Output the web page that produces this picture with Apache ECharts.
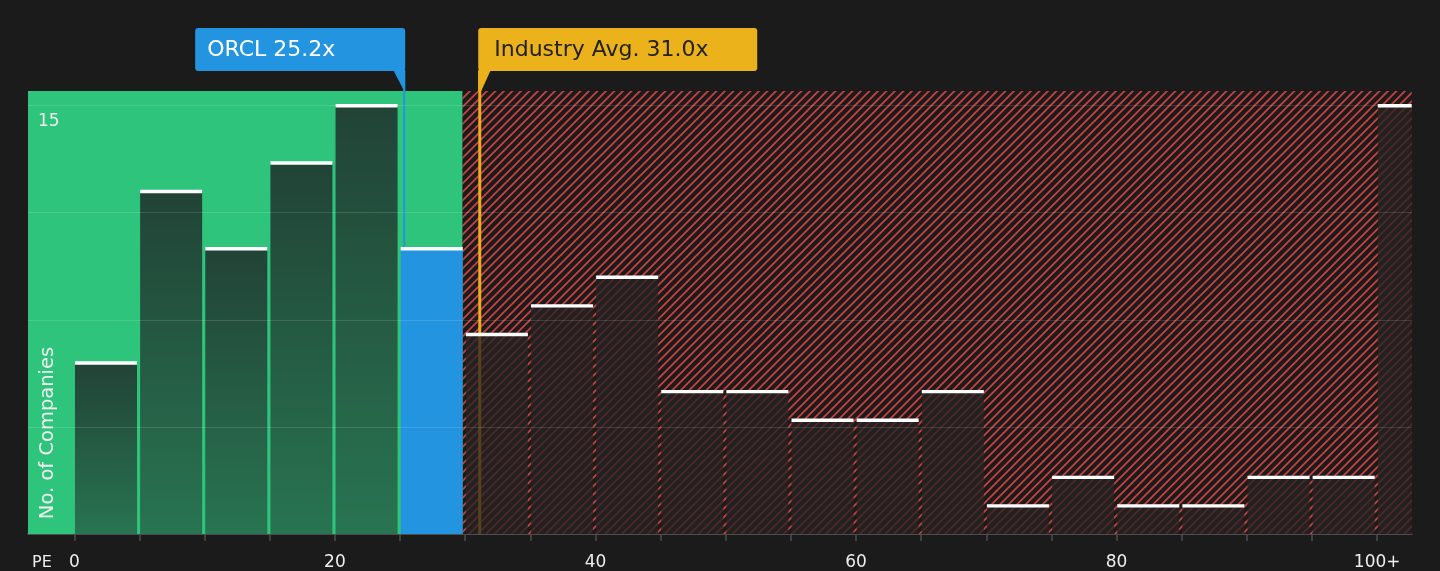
<!DOCTYPE html>
<html>
<head>
<meta charset="utf-8">
<script src="https://cdn.jsdelivr.net/npm/echarts@6/dist/echarts.min.js"></script>
<style>
html,body{margin:0;padding:0;background:#1b1b1b;}
#chart{width:1440px;height:571px;}
</style>
</head>
<body>
<div id="chart"></div>
<script>
// ---- data ----
const binStarts = [0,5,10,15,20,25,30,35,40,45,50,55,60,65,70,75,80,85,90,95,100];
const companyCounts = [6,12,10,13,15,10,7,8,9,5,5,4,4,5,1,2,1,1,2,2,15];
const xTickValues = [0,5,10,15,20,25,30,35,40,45,50,55,60,65,70,75,80,85,90,95,100];
const xLabelValues = [0,20,40,60,80,100];
const xLabelTexts = ['0','20','40','60','80','100+'];
const yGridValues = [3.75,7.5,11.25,15];
const yLabelValues = [15];
const companyName = 'ORCL';
const companyPE = 25.2;
const industryName = 'Industry Avg.';
const industryPE = 31.0;
const goodValueLimit = 29.8;

// ---- layout / style constants ----
const X_MIN = -3.56, X_MAX = 102.65, Y_MAX = 15.5;
const FONT = '"DejaVu Sans", sans-serif';
const MARK_DX = 1.5;

function makeHatch(){
  const s = 17;
  const c = document.createElement('canvas');
  c.width = s; c.height = s;
  const g = c.getContext('2d');
  g.fillStyle = '#1d1a1a';
  g.fillRect(0,0,s,s);
  g.strokeStyle = '#c24343';
  g.lineWidth = 1.9;
  g.beginPath();
  [0, 8.5, 17, 25.5, 34].forEach(k => {
    g.moveTo(k + 2, -2);
    g.lineTo(-2, k + 2);
  });
  g.stroke();
  return c;
}
const hatchPattern = {image: makeHatch(), repeat: 'repeat'};

const bins = binStarts.map((s, i) => {
  const e = i < binStarts.length - 1 ? binStarts[i+1] : X_MAX;
  return [s, e, companyCounts[i]];
});

const chart = echarts.init(document.getElementById('chart'), null, {renderer: 'canvas'});

const option = {
  backgroundColor: '#1b1b1b',
  animation: false,
  textStyle: {fontFamily: FONT},
  grid: {left: 28, right: 28.3, top: 91, bottom: 36, containLabel: false},
  xAxis: {
    type: 'value', min: X_MIN, max: X_MAX,
    splitLine: {show: false},
    axisLine: {show: true, lineStyle: {color: '#4d4d4d', width: 2}},
    axisTick: {show: true, customValues: xTickValues, length: 7, lineStyle: {color: '#4d4d4d', width: 1.5}},
    axisLabel: {
      customValues: xLabelValues, color: '#eeeeee', fontSize: 17, margin: 20, fontFamily: FONT,
      formatter: v => { const i = xLabelValues.indexOf(v); return i >= 0 ? xLabelTexts[i] : ''; }
    }
  },
  yAxis: {
    type: 'value', min: 0, max: Y_MAX,
    splitLine: {show: false},
    axisLine: {show: false},
    axisTick: {show: false},
    axisLabel: {show: false}
  },
  graphic: [
    {type: 'text', left: 32, top: 555, z: 100,
     style: {text: 'PE', fill: '#eeeeee', font: '16px ' + FONT}},
    {type: 'text', x: 48, y: 433, rotation: Math.PI/2, z: 100,
     style: {text: 'No. of Companies', fill: '#eeeeee', font: '19.5px ' + FONT, align: 'center', verticalAlign: 'middle'}}
  ],
  series: [
    // background zones
    {
      type: 'custom', z: 1, silent: true,
      data: [[X_MIN, goodValueLimit, 0], [goodValueLimit, X_MAX, 1]],
      renderItem: (params, api) => {
        const p0 = api.coord([api.value(0), Y_MAX]);
        const p1 = api.coord([api.value(1), 0]);
        return {
          type: 'rect',
          shape: {x: p0[0], y: p0[1], width: p1[0]-p0[0], height: p1[1]-p0[1]},
          style: {fill: api.value(2) === 0 ? '#2ec47c' : hatchPattern}
        };
      }
    },
    // marker lines (under the bars)
    {
      type: 'custom', z: 2, silent: true,
      data: [[companyPE, 0], [industryPE, 1]],
      renderItem: (params, api) => {
        const top = api.coord([api.value(0), Y_MAX]);
        const bot = api.coord([api.value(0), 0]);
        const isInd = api.value(1) === 1;
        const x = top[0] + MARK_DX;
        return {
          type: 'line',
          shape: {x1: x, y1: top[1]-20, x2: x, y2: bot[1]},
          style: {stroke: isInd ? '#f0ab1d' : '#2394e0', lineWidth: isInd ? 3 : 2}
        };
      }
    },
    // histogram bars
    {
      type: 'custom', z: 3, silent: true,
      data: bins,
      renderItem: (params, api) => {
        const s = api.value(0), e = api.value(1), v = api.value(2);
        const a = api.coord([s, v]);
        const b = api.coord([e, 0]);
        const x = a[0] + 0.6;
        const w = (b[0] - a[0]) - 3.1;
        const isLast = params.dataIndex === bins.length - 1;
        const ww = isLast ? (b[0] - a[0]) - 0.6 : w;
        let fill;
        if (companyPE >= s && companyPE < e) fill = '#2394e0';
        else if (s < goodValueLimit) fill = new echarts.graphic.LinearGradient(0,0,0,1,[
          {offset: 0, color: '#214336'}, {offset: 1, color: '#287451'}]);
        else fill = 'rgba(38,34,34,0.78)';
        return {
          type: 'group',
          children: [
            {type: 'rect', shape: {x: x, y: a[1], width: ww, height: b[1]-a[1]}, style: {fill: fill}},
            {type: 'rect', shape: {x: x, y: a[1]-1.2, width: ww, height: 3.4}, style: {fill: '#ffffff'}}
          ]
        };
      }
    },
    // grid lines on top
    {
      type: 'custom', z: 5, silent: true,
      data: yGridValues.map(v => [v]),
      renderItem: (params, api) => {
        const a = api.coord([X_MIN, api.value(0)]);
        const b = api.coord([X_MAX, api.value(0)]);
        return {
          type: 'line',
          shape: {x1: a[0], y1: Math.round(a[1]) + 0.5, x2: b[0], y2: Math.round(b[1]) + 0.5},
          style: {stroke: 'rgba(255,255,255,0.13)', lineWidth: 1}
        };
      }
    },
    // y-axis value label inside the plot
    {
      type: 'custom', z: 6, silent: true,
      data: yLabelValues.map(v => [v]),
      renderItem: (params, api) => {
        const p = api.coord([X_MIN, api.value(0)]);
        return {
          type: 'text', x: p[0] + 10, y: p[1] + 16,
          style: {text: String(api.value(0)), fill: '#eeeeee', font: '17px ' + FONT, verticalAlign: 'middle'}
        };
      }
    },
    // annotation boxes
    {
      type: 'custom', z: 10, silent: true,
      data: [[companyPE, 0], [industryPE, 1]],
      renderItem: (params, api) => {
        const pe = api.value(0);
        const isInd = api.value(1) === 1;
        const top = api.coord([pe, Y_MAX]);
        const x = top[0] + MARK_DX, ty = top[1];
        const boxTop = ty - 63, boxBot = ty - 20;
        if (!isInd) {
          const bx = x - 209, bw = 210;
          return {
            type: 'group',
            children: [
              {type: 'rect', shape: {x: bx, y: boxTop, width: bw, height: boxBot-boxTop, r: 3}, style: {fill: '#2394e0'}},
              {type: 'polygon', shape: {points: [[x-11, boxBot-1], [x+1, boxBot-1], [x+1, ty], [x, ty]]}, style: {fill: '#2394e0'}},
              {type: 'text', x: bx + 12, y: (boxTop+boxBot)/2 + 1,
               style: {text: companyName + ' ' + pe.toFixed(1) + 'x', fill: '#ffffff', font: '22px ' + FONT, verticalAlign: 'middle'}}
            ]
          };
        } else {
          const bx = x - 1.5, bw = 279;
          return {
            type: 'group',
            children: [
              {type: 'rect', shape: {x: bx, y: boxTop, width: bw, height: boxBot-boxTop, r: 3}, style: {fill: '#ebb21c'}},
              {type: 'polygon', shape: {points: [[bx, boxBot-1], [x+11, boxBot-1], [x+1.5, ty], [bx, ty]]}, style: {fill: '#ebb21c'}},
              {type: 'text', x: bx + 16, y: (boxTop+boxBot)/2 + 1,
               style: {text: industryName + ' ' + pe.toFixed(1) + 'x', fill: '#222222', font: '22px ' + FONT, verticalAlign: 'middle'}}
            ]
          };
        }
      }
    }
  ]
};
chart.setOption(option);
</script>
</body>
</html>
